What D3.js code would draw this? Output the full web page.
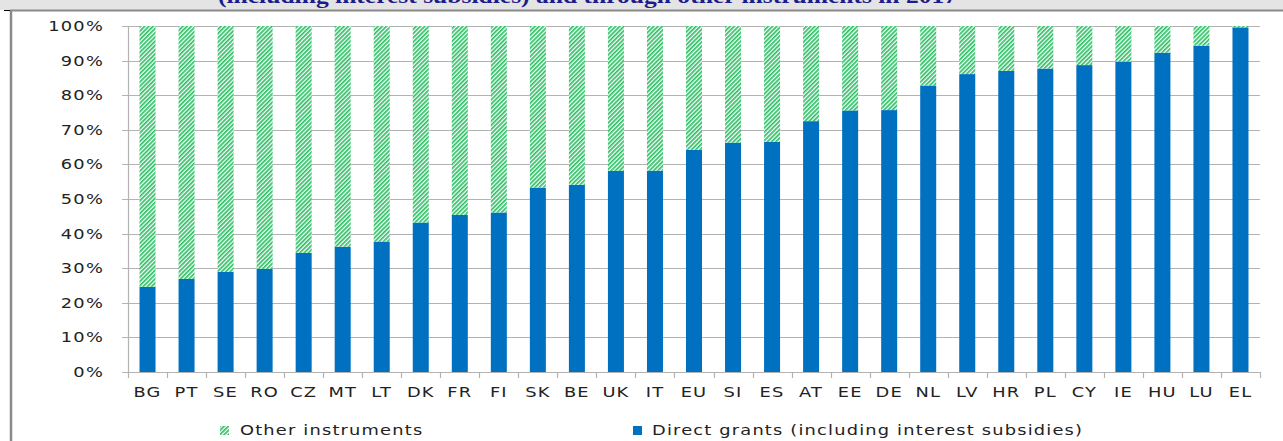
<!DOCTYPE html>
<html>
<head>
<meta charset="utf-8">
<script src="https://cdn.jsdelivr.net/npm/d3@7"></script>
<style>
  html, body { margin: 0; padding: 0; background: #fff; }
  svg { display: block; }
</style>
</head>
<body>
<svg id="chart" width="1283" height="441"></svg>
<script>
var categories = ["BG","PT","SE","RO","CZ","MT","LT","DK","FR","FI","SK","BE","UK","IT","EU","SI","ES","AT","EE","DE","NL","LV","HR","PL","CY","IE","HU","LU","EL"];
var directGrants = [24.6,26.9,28.9,29.8,34.4,36.2,37.7,43.2,45.4,46.1,53.3,54.1,58.1,58.2,64.2,66.3,66.5,72.5,75.6,75.7,82.8,86.1,87.0,87.7,88.7,89.7,92.3,94.3,99.6];
var otherInstruments = directGrants.map(function(d) { return 100 - d; });
var yTicks = [0,10,20,30,40,50,60,70,80,90,100];
var titleText = "(including interest subsidies) and through other instruments in 2017";
var legendLabels = ["Other instruments", "Direct grants (including interest subsidies)"];

var svg = d3.select("#chart");
var width = 1283, height = 441;
var margin = {left: 128, right: 1260, top: 26, bottom: 372};
var stretch = 1.32;

var blue = "#0070c0";
var green = "#2cbf64";
var grid = "#b3b3b3";

var defs = svg.append("defs");
var pat = defs.append("pattern")
	.attr("id", "hatch")
	.attr("patternUnits", "userSpaceOnUse")
	.attr("width", 3)
	.attr("height", 3)
	.attr("patternTransform", "rotate(45)");
pat.append("rect").attr("width", 3).attr("height", 3).attr("fill", "#fff");
pat.append("rect").attr("width", 1.7).attr("height", 3).attr("fill", green);

// top band with clipped title
svg.append("rect").attr("x", 0).attr("y", 0).attr("width", width).attr("height", 10).attr("fill", "#e4e4e4");
svg.append("text")
	.attr("x", 218).attr("y", 3)
	.attr("textLength", 739)
	.attr("lengthAdjust", "spacingAndGlyphs")
	.attr("font-family", "Liberation Serif")
	.attr("font-weight", "bold")
	.attr("font-size", 21)
	.attr("fill", "#1c1c8c")
	.text(titleText);
svg.append("line").attr("x1", 10).attr("x2", width).attr("y1", 10.5).attr("y2", 10.5).attr("stroke", "#8a8a8a").attr("stroke-width", 2);
svg.append("line").attr("x1", 11).attr("x2", 11).attr("y1", 10).attr("y2", height).attr("stroke", "#8a8a8a").attr("stroke-width", 2.5);
svg.append("line").attr("x1", 4).attr("x2", 10).attr("y1", 10.5).attr("y2", 10.5).attr("stroke", "#000").attr("stroke-width", 1);

var x = d3.scaleBand().domain(categories).range([margin.left, margin.right]).paddingInner(0.59).paddingOuter(0.295);
var xb = d3.scaleBand().domain(categories).range([margin.left, margin.right]);
var y = d3.scaleLinear().domain([0, 100]).range([margin.bottom, margin.top]);

function stretchedText(g, tx, ty, anchor, str) {
	var t = g.append("text")
		.attr("transform", "translate(" + tx + "," + ty + ") scale(" + stretch + ",1)")
		.attr("text-anchor", anchor)
		.attr("font-family", "DejaVu Sans")
		.attr("font-size", 13.5)
		.attr("letter-spacing", 0.9)
		.attr("fill", "#222")
		.text(str);
	return t;
}

// gridlines
svg.append("g").selectAll("line").data(yTicks).enter().append("line")
	.attr("x1", margin.left - 6).attr("x2", margin.right)
	.attr("y1", function(d) { return Math.round(y(d)) + 0.5; })
	.attr("y2", function(d) { return Math.round(y(d)) + 0.5; })
	.attr("stroke", grid).attr("stroke-width", 1.2);

// y labels
var yl = svg.append("g");
yTicks.forEach(function(d) {
	stretchedText(yl, 104, y(d) + 5, "end", d + "%");
});

// axis lines
svg.append("line").attr("x1", margin.left + 0.5).attr("x2", margin.left + 0.5).attr("y1", margin.top).attr("y2", margin.bottom + 6).attr("stroke", grid).attr("stroke-width", 1.2);
svg.append("g").selectAll("line").data(categories).enter().append("line")
	.attr("x1", function(d) { return Math.round(xb(d) + xb.bandwidth()) + 0.5; })
	.attr("x2", function(d) { return Math.round(xb(d) + xb.bandwidth()) + 0.5; })
	.attr("y1", margin.bottom).attr("y2", margin.bottom + 6)
	.attr("stroke", grid).attr("stroke-width", 1.2);

// bars
var bars = svg.append("g");
bars.selectAll(".direct").data(categories).enter().append("rect")
	.attr("class", "direct")
	.attr("x", function(d) { return x(d); })
	.attr("width", x.bandwidth())
	.attr("y", function(d, i) { return y(directGrants[i]); })
	.attr("height", function(d, i) { return y(0) - y(directGrants[i]); })
	.attr("fill", blue);
bars.selectAll(".other").data(categories).enter().append("rect")
	.attr("class", "other")
	.attr("x", function(d) { return x(d); })
	.attr("width", x.bandwidth())
	.attr("y", function(d, i) { return y(100); })
	.attr("height", function(d, i) { return y(directGrants[i]) - y(directGrants[i] + otherInstruments[i]); })
	.attr("fill", "url(#hatch)");

// x labels
var xl = svg.append("g");
categories.forEach(function(d) {
	stretchedText(xl, x(d) + x.bandwidth() / 2, 397, "middle", d);
});

// legend
var lg = svg.append("g");
lg.append("rect").attr("x", 220).attr("y", 426).attr("width", 9).attr("height", 9).attr("fill", "url(#hatch)");
stretchedText(lg, 240, 435, "start", legendLabels[0]);
lg.append("rect").attr("x", 633).attr("y", 426).attr("width", 9).attr("height", 9).attr("fill", blue);
stretchedText(lg, 652, 435, "start", legendLabels[1]);
</script>
</body>
</html>
